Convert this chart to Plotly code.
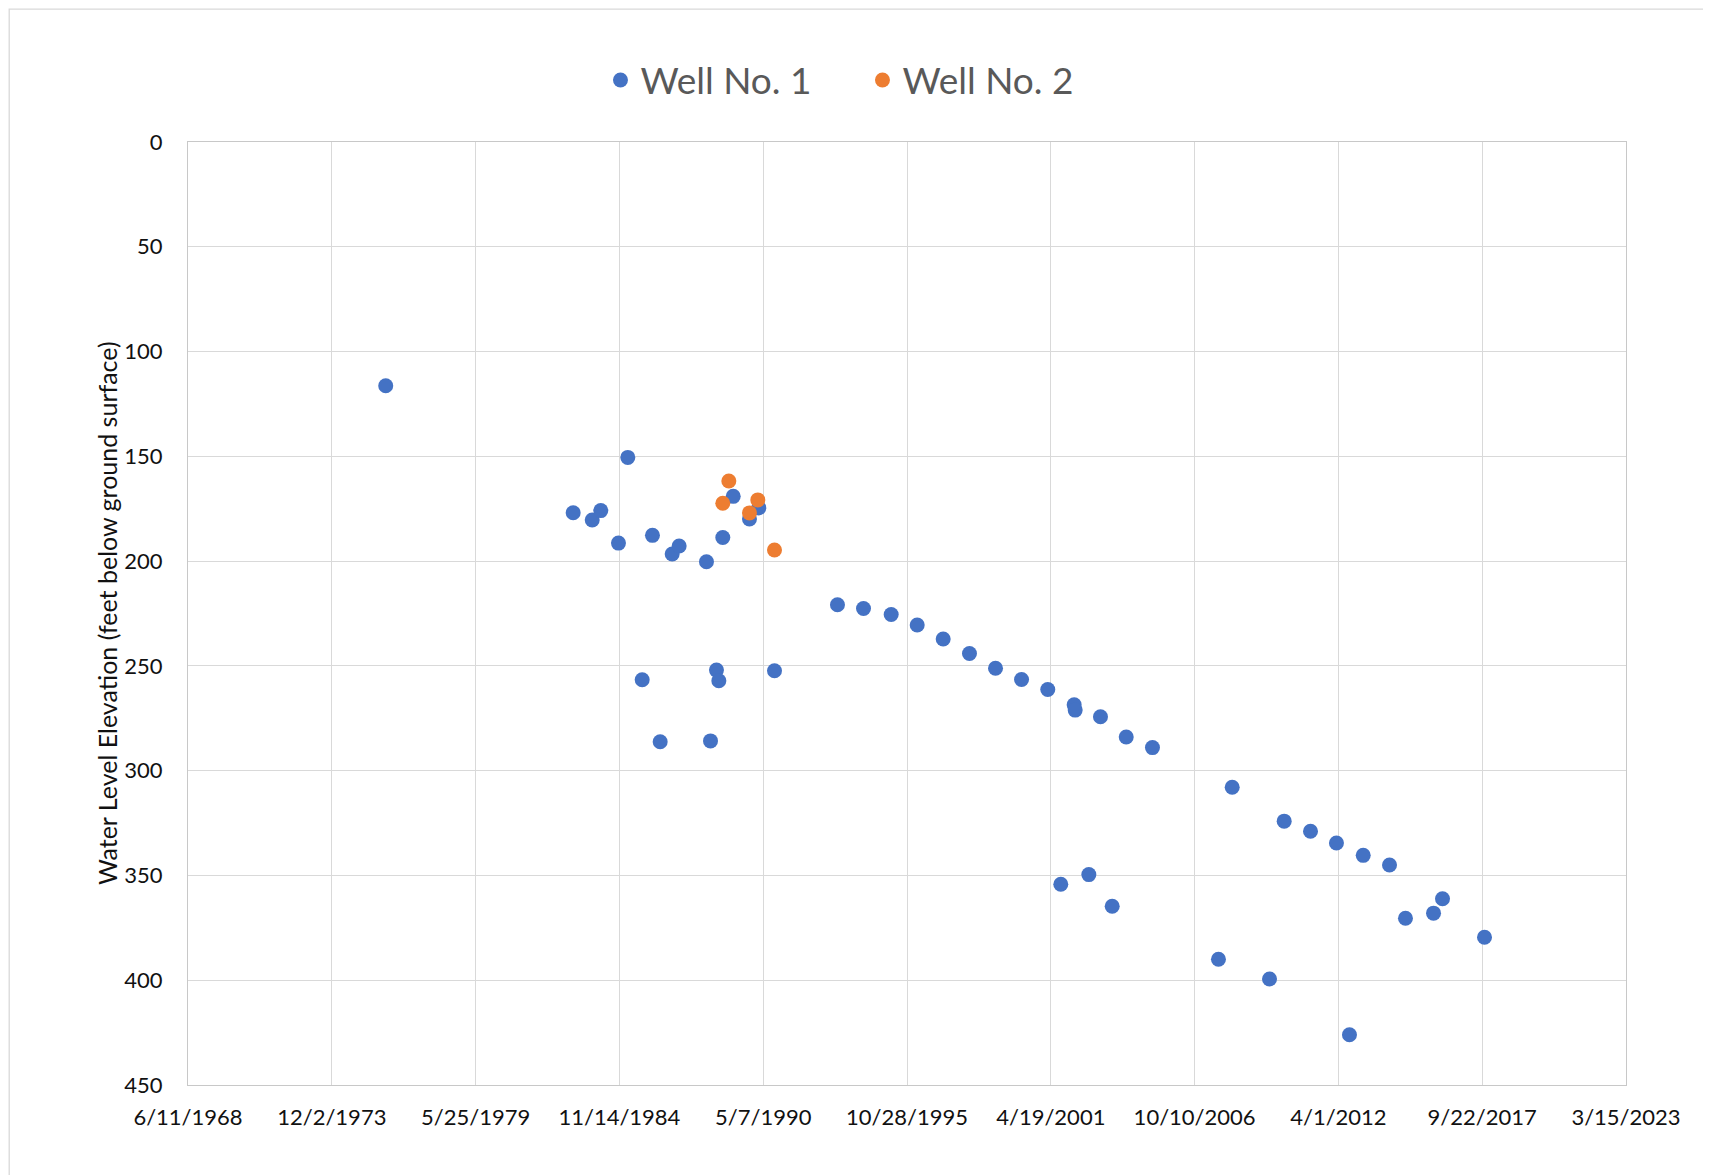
import pandas as pd
import plotly.graph_objects as go

# Excel date serials (days since 1899-12-30) and depth to water (ft below ground surface)
well1_serial = [27750, 30357, 30622, 30741, 30987, 31117, 31317, 31460, 31567, 31734,
                31831, 32211, 32267, 32350, 32383, 32438, 32583, 32809, 32939, 33157,
                34033, 34395, 34780, 35142, 35503, 35869, 36231, 36593, 36958, 37139,
                37325, 37339, 37529, 37691, 37854, 38049, 38414, 39332, 39523, 40042,
                40246, 40612, 40973, 41154, 41345, 41711, 41933, 42323, 42448, 43032]
well1_depth = [116.3, 176.9, 180.4, 175.9, 191.4, 150.5, 256.6, 187.7, 286.2, 196.6,
               192.8, 200.3, 285.8, 252.0, 257.1, 188.7, 169.1, 179.9, 174.6, 252.3,
               220.8, 222.6, 225.5, 230.5, 237.2, 244.1, 251.1, 256.5, 261.3, 354.2,
               268.6, 271.1, 349.6, 274.3, 364.7, 283.9, 289.0, 390.0, 307.9, 399.4,
               324.1, 328.9, 334.5, 426.0, 340.4, 345.0, 370.4, 368.0, 361.1, 379.5]

well2_serial = [32438, 32522, 32809, 32925, 33157]
well2_depth = [172.4, 161.8, 177.0, 170.8, 194.7]

x_tick_serial = [25000, 27000, 29000, 31000, 33000, 35000, 37000, 39000, 41000, 43000, 45000]
x_tick_text = ["6/11/1968", "12/2/1973", "5/25/1979", "11/14/1984", "5/7/1990",
               "10/28/1995", "4/19/2001", "10/10/2006", "4/1/2012", "9/22/2017", "3/15/2023"]
series_names = ["Well No. 1", "Well No. 2"]
y_title = "Water Level Elevation (feet below ground surface)"


def to_date(s):
    return pd.to_datetime(pd.Series(s), unit="D", origin="1899-12-30")


FONT = "Lato"
# the page body adds an 8px offset; canvas sized to fit the window exactly
W, H = 1703, 1167
ML, MR, MT, MB = 179.5, 85.4, 133.6, 90.3
PW, PH = W - ML - MR, H - MT - MB

fig = go.Figure()
fig.add_trace(go.Scatter(x=to_date(well1_serial), y=well1_depth, mode="markers",
                         name=series_names[0],
                         marker=dict(size=15, color="#4472C4")))
fig.add_trace(go.Scatter(x=to_date(well2_serial), y=well2_depth, mode="markers",
                         name=series_names[1],
                         marker=dict(size=15, color="#ED7D31")))

tickdates = to_date(x_tick_serial)

fig.update_xaxes(type="date", range=[tickdates.iloc[0], tickdates.iloc[-1]],
                 tickmode="array", tickvals=tickdates, ticktext=x_tick_text,
                 showgrid=True, gridcolor="#D9D9D9", gridwidth=1.3,
                 showline=True, linecolor="#C8C8C8", linewidth=1.3, mirror=True,
                 zeroline=False, ticks="", ticklabelstandoff=12,
                 tickfont=dict(family=FONT, size=22, color="#111111"))
fig.update_yaxes(range=[450, 0], tickmode="linear", tick0=0, dtick=50,
                 showgrid=True, gridcolor="#D9D9D9", gridwidth=1.3,
                 showline=True, linecolor="#C8C8C8", linewidth=1.3, mirror=True,
                 zeroline=False, ticks="", ticklabelstandoff=20,
                 tickfont=dict(family=FONT, size=22, color="#111111"))

fig.add_annotation(text=y_title, xref="paper", yref="paper",
                   x=(98 - ML) / PW, y=0.5, xanchor="center", yanchor="middle",
                   textangle=-90, showarrow=False,
                   font=dict(family=FONT, size=25, color="#111111"))

fig.add_shape(type="rect", xref="paper", yref="paper",
              x0=(0.7 - ML) / PW, x1=(W + 5 - ML) / PW,
              y0=-(MB + 5) / PH, y1=(H - MB - 0.7) / PH,
              line=dict(color="#D9D9D9", width=1.3), layer="below")

fig.update_layout(
    width=W, height=H,
    margin=dict(l=ML, r=MR, t=MT, b=MB, autoexpand=False),
    paper_bgcolor="white", plot_bgcolor="white",
    showlegend=True,
    legend=dict(orientation="h", x=(592 - ML) / PW, xanchor="left",
                y=(H - MB - 72) / PH, yanchor="middle",
                font=dict(family=FONT, size=37, color="#595959"),
                entrywidth=217, bgcolor="rgba(0,0,0,0)"),
    font=dict(family=FONT),
)

fig.write_html("out.html")
